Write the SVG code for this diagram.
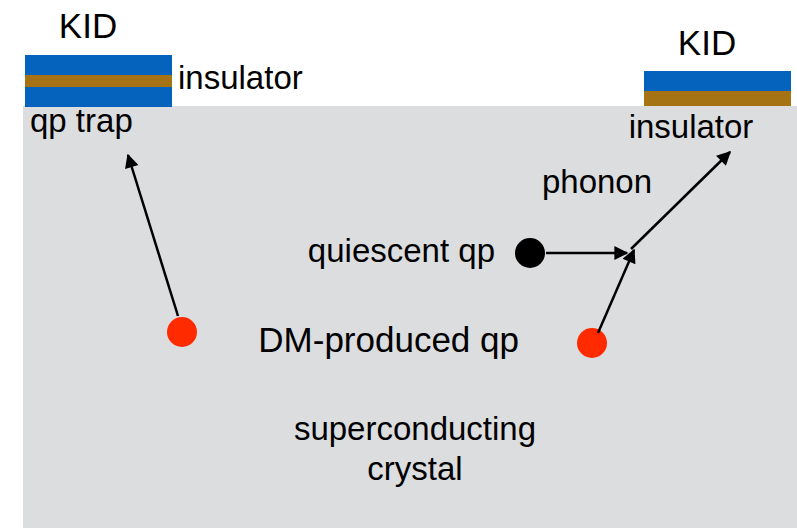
<svg xmlns="http://www.w3.org/2000/svg" width="797" height="529" viewBox="0 0 797 529">
<style>
text{font-family:"Liberation Sans",Arial,sans-serif;font-size:33px;fill:#000}
.big{font-size:35px}
.blue{fill:#0563BE}
.brown{fill:#A57214}
.conn line{stroke:#000;stroke-width:2.5;marker-end:url(#ah)}
</style>
<defs>
<marker id="ah" viewBox="0 0 10 10" refX="9" refY="5" markerUnits="userSpaceOnUse" markerWidth="16" markerHeight="14" orient="auto">
<path d="M0,0 L10,5 L0,10 z" fill="#000"/>
</marker>
</defs>
<rect width="797" height="529" fill="#fff"/>
<g id="crystal">
<rect x="23" y="106" width="774" height="422" fill="#DCDDDF"/>
<text x="415" y="440" text-anchor="middle">superconducting</text>
<text x="415" y="480" text-anchor="middle">crystal</text>
</g>
<g id="kid-left">
<rect class="blue" x="25" y="55" width="147" height="52"/>
<rect class="brown" x="25" y="75" width="147" height="12"/>
<text class="big" x="88" y="38" text-anchor="middle">KID</text>
<text x="178" y="89">insulator</text>
<text x="30" y="132">qp trap</text>
</g>
<g id="kid-right">
<rect class="blue" x="644" y="71" width="147" height="20"/>
<rect class="brown" x="644" y="91" width="147" height="15"/>
<text class="big" x="707" y="55" text-anchor="middle">KID</text>
<text x="691" y="138" text-anchor="middle">insulator</text>
</g>
<g id="phonon-label"><text x="597" y="193" text-anchor="middle">phonon</text></g>
<g id="quiescent"><text x="495" y="262" text-anchor="end">quiescent qp</text><circle cx="530" cy="253" r="15" fill="#000"/></g>
<g id="dm-label"><text class="big" x="519" y="352" text-anchor="end">DM-produced qp</text></g>
<g id="qp-left"><circle cx="182" cy="332" r="15" fill="#FF2A00"/></g>
<g id="qp-right"><circle cx="592" cy="343" r="15" fill="#FF2A00"/></g>
<g class="conn" id="connectors">
<line x1="178" y1="316" x2="128" y2="155"/>
<line x1="546" y1="253" x2="627" y2="253"/>
<line x1="598" y1="333" x2="634" y2="250"/>
<line x1="631" y1="249" x2="730" y2="152"/>
</g>
</svg>
